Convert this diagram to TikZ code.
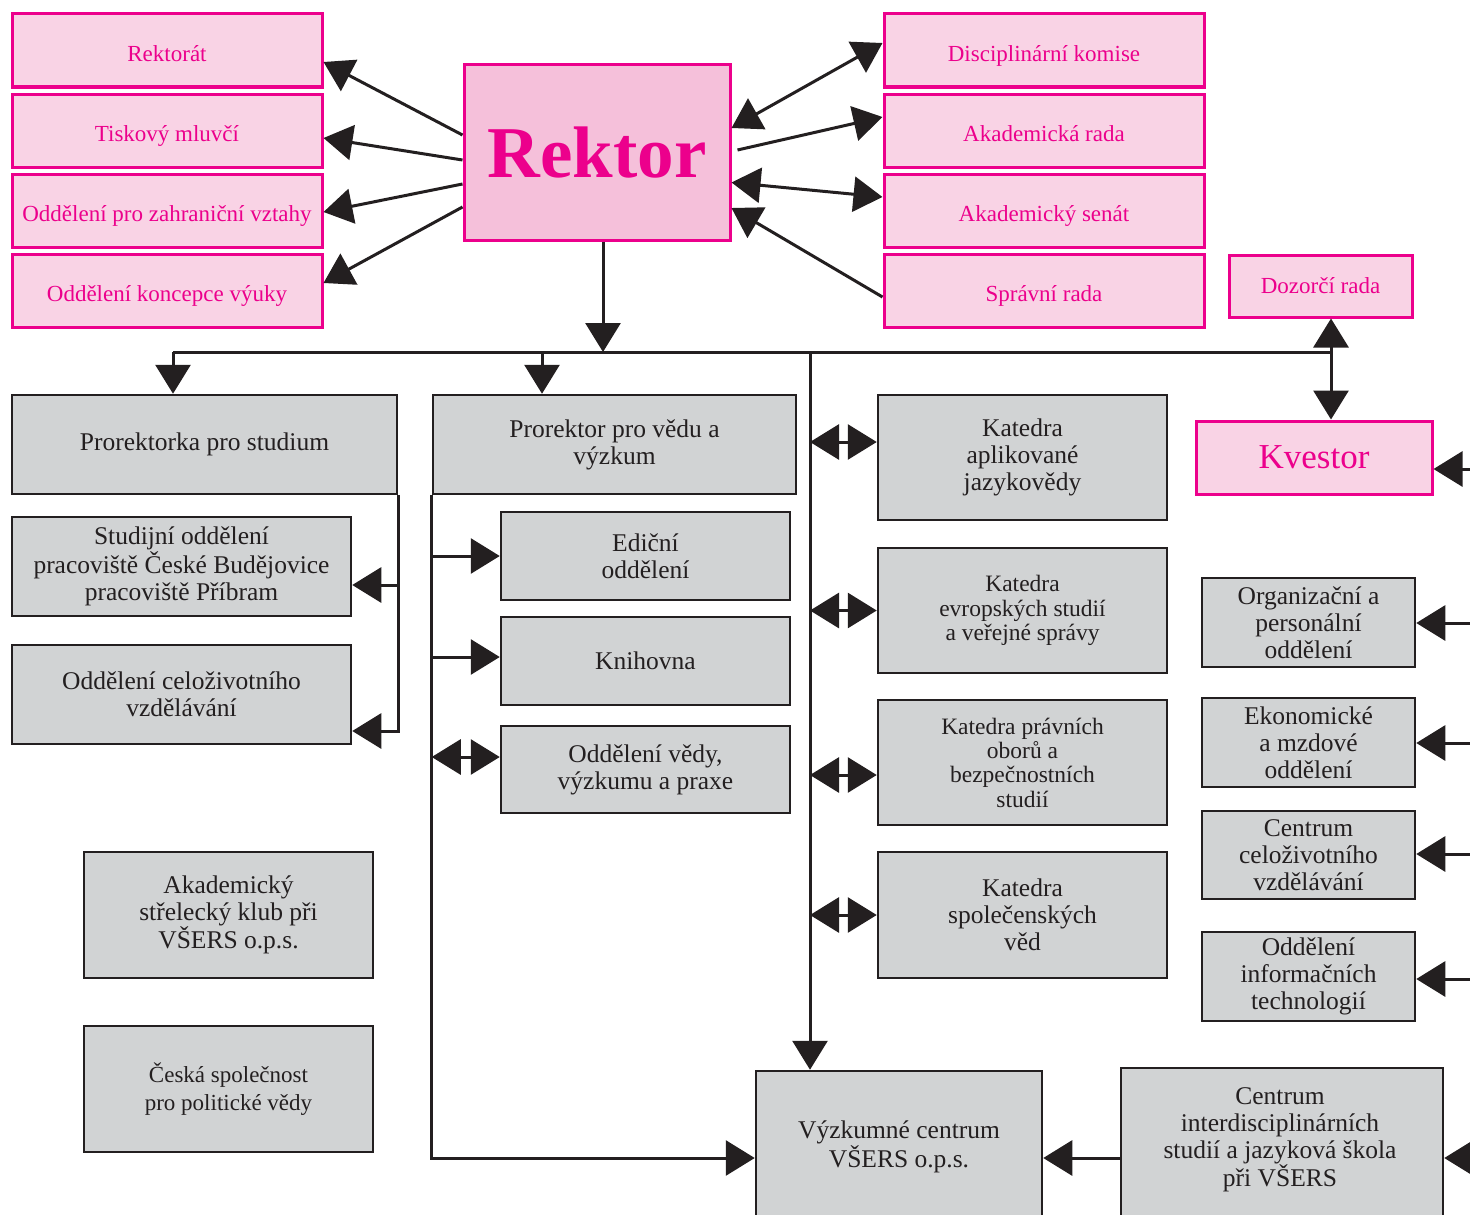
\documentclass[tikz,border=0pt]{standalone}
\usepackage{fontspec}
\setmainfont{Liberation Serif}
\usetikzlibrary{arrows.meta}
\definecolor{pinkb}{HTML}{EC008C}
\definecolor{pinkf}{HTML}{F9D3E5}
\definecolor{pinkr}{HTML}{F5C0DA}
\definecolor{grayf}{HTML}{D1D3D4}
\definecolor{inkc}{HTML}{231F20}
\newcommand\orgbox[7]{\node[#1,minimum width={#4-#2},minimum height={#5-#3}] (#6) at ({(#2+#4)/2},{(#3+#5)/2}) {#7};}
\tikzset{
  pbox/.style={draw=pinkb,line width=3pt,fill=pinkf,text=pinkb,inner sep=0pt,align=center,font=\fontsize{23}{27}\selectfont},
  pboxl/.style={pbox,text height=22pt,text depth=0pt},
  rbox/.style={pbox,fill=pinkr,font=\fontsize{73}{80}\selectfont\bfseries},
  kbox/.style={pbox,font=\fontsize{35}{40}\selectfont},
  gbox/.style={draw=inkc,line width=2.5pt,fill=grayf,text=inkc,inner sep=0pt,align=center,font=\fontsize{25.5}{27}\selectfont},
  gsbox/.style={gbox,font=\fontsize{23.5}{24.3}\selectfont},
  gcbox/.style={gbox,font=\fontsize{23}{28}\selectfont},
  gtext/.style={text=inkc,inner sep=0pt,align=center,font=\fontsize{25.5}{27}\selectfont},
  conn/.style={draw=inkc,line width=3pt},
  arr/.style={conn,-{Triangle[length=29pt,width=35pt]}},
  darr/.style={conn,{Triangle[length=29pt,width=35pt]}-{Triangle[length=29pt,width=35pt]}},
}
\begin{document}
\begin{tikzpicture}[x=1pt,y=-1pt]
\useasboundingbox (0,0) rectangle (1470,1215);
% pink boxes
\orgbox{pboxl}{12}{14}{322}{87}{rektorat}{Rektorát}
\orgbox{pboxl}{12}{94}{322}{167}{tisk}{Tiskový mluvčí}
\orgbox{pboxl}{12}{174}{322}{247}{zahr}{Oddělení pro zahraniční vztahy}
\orgbox{pboxl}{12}{254}{322}{327}{konc}{Oddělení koncepce výuky}
\orgbox{rbox}{464}{65}{730}{240}{rektor}{Rektor}
\orgbox{pboxl}{884}{14}{1204}{87}{disc}{Disciplinární komise}
\orgbox{pboxl}{884}{94}{1204}{167}{akrada}{Akademická rada}
\orgbox{pboxl}{884}{174}{1204}{247}{senat}{Akademický senát}
\orgbox{pboxl}{884}{254}{1204}{327}{sprava}{Správní rada}
\orgbox{pbox}{1229}{255}{1412}{317}{dozor}{Dozorčí rada}
\orgbox{kbox}{1196}{421}{1432}{494}{kvestor}{Kvestor}
% gray boxes
\orgbox{gbox}{12}{395}{397}{494}{prostud}{Prorektorka pro studium}
\orgbox{gbox}{433}{395}{796}{494}{provedu}{Prorektor pro vědu a\\výzkum}
\orgbox{gbox}{12}{517}{351}{616}{studijni}{Studijní oddělení\\pracoviště České Budějovice\\pracoviště Příbram}
\orgbox{gbox}{12}{645}{351}{744}{celoz}{Oddělení celoživotního\\vzdělávání}
\orgbox{gbox}{501}{512}{790}{600}{edicni}{Ediční\\oddělení}
\orgbox{gbox}{501}{617}{790}{705}{knihovna}{Knihovna}
\orgbox{gbox}{501}{726}{790}{813}{odvedy}{Oddělení vědy,\\výzkumu a praxe}
\orgbox{gbox}{878}{395}{1167}{520}{katA}{Katedra\\aplikované\\jazykovědy}
\orgbox{gsbox}{878}{548}{1167}{673}{katE}{Katedra\\evropských studií\\a veřejné správy}
\orgbox{gsbox}{878}{700}{1167}{825}{katP}{Katedra právních\\oborů a\\bezpečnostních\\studií}
\orgbox{gbox}{878}{852}{1167}{978}{katS}{Katedra\\společenských\\věd}
\orgbox{gbox}{1202}{578}{1415}{667}{org}{Organizační a\\personální\\oddělení}
\orgbox{gbox}{1202}{698}{1415}{787}{ekon}{Ekonomické\\a mzdové\\oddělení}
\orgbox{gbox}{1202}{811}{1415}{899}{ccv}{Centrum\\celoživotního\\vzdělávání}
\orgbox{gbox}{1202}{932}{1415}{1021}{oit}{Oddělení\\informačních\\technologií}
\orgbox{gbox}{84}{852}{373}{978}{klub}{Akademický\\střelecký klub při\\VŠERS o.p.s.}
\orgbox{gcbox}{84}{1026}{373}{1152}{csp}{Česká společnost\\pro politické vědy}
\orgbox{gbox}{756}{1071}{1042}{1245}{vyzkum}{}
\node[gtext] (vyzkumT) at (899,1147) {Výzkumné centrum\\VŠERS o.p.s.};
\orgbox{gbox}{1121}{1068}{1443}{1248}{cis}{}
\node[gtext] (cisT) at (1280,1140) {Centrum\\interdisciplinárních\\studií a jazyková škola\\při VŠERS};
% Rektor connectors
\draw[arr] ([yshift=17.5pt]rektor.west) -- ([yshift=-11.5pt]rektorat.east);
\draw[arr] ([yshift=-7.5pt]rektor.west) -- ([yshift=-7.5pt]tisk.east);
\draw[arr] ([yshift=-31.5pt]rektor.west) -- ([yshift=-1.5pt]zahr.east);
\draw[arr] ([yshift=-54.5pt]rektor.west) -- ([yshift=7.5pt]konc.east);
\draw[darr] ([yshift=24.5pt]rektor.east) -- ([yshift=7.5pt]disc.west);
\draw[arr] ([xshift=6pt,yshift=2.5pt]rektor.east) -- ([yshift=13.5pt]akrada.west);
\draw[darr] ([yshift=-30pt]rektor.east) -- ([yshift=13.5pt]senat.west);
\draw[arr] ([yshift=-6.5pt]sprava.west) -- ([yshift=-55.5pt]rektor.east);
% bus
\coordinate (bus0) at (173,352);
\coordinate (bus1) at (542,352);
\coordinate (bus2) at (810,352);
\coordinate (bus3) at (1331,352);
\draw[arr] ([xshift=6pt]rektor.south) -- ([xshift=6pt]rektor.south |- bus0);
\draw[conn] (bus0) -- (bus3);
\draw[arr] (bus0) -- (bus0 |- prostud.north);
\draw[arr] (bus1) -- (bus1 |- provedu.north);
\draw[arr] (bus2) -- (bus2 |- vyzkum.north);
\draw[darr] (dozor.south -| bus3) -- (kvestor.north -| bus3);
% Prorektorka branch
\path ([yshift=-18.5pt]studijni.east) coordinate (s1) ([yshift=-36.5pt]celoz.east) coordinate (s2);
\draw[arr] (prostud.south east) |- (s2);
\draw[arr] (prostud.south east |- s1) -- (s1);
% Prorektor branch
\draw[arr] (provedu.south west) |- (vyzkum.west);
\draw[arr] (provedu.south west |- edicni.west) -- (edicni.west);
\path ([yshift=4pt]knihovna.west) coordinate (kn);
\draw[arr] (provedu.south west |- kn) -- (kn);
\path ([yshift=12.5pt]odvedy.west) coordinate (ov);
\draw[darr] (provedu.south west |- ov) -- (ov);
% katedry
\path ([yshift=15.5pt]katA.west) coordinate (ka);
\draw[darr] (bus2 |- ka) -- (ka);
\draw[darr] (bus2 |- katE.west) -- (katE.west);
\path ([yshift=-12.5pt]katP.west) coordinate (kp);
\draw[darr] (bus2 |- kp) -- (kp);
\draw[darr] (bus2 |- katS.west) -- (katS.west);
% right free ends
\coordinate (rK) at (1476,469);
\coordinate (rO) at (1476,623);
\coordinate (rE) at (1476,743);
\coordinate (rC) at (1476,854);
\coordinate (rI) at (1476,979);
\coordinate (rX) at (1476,1158);
\draw[arr] (rK) -- (rK -| kvestor.east);
\draw[arr] (rO) -- (rO -| org.east);
\draw[arr] (rE) -- (rE -| ekon.east);
\draw[arr] (rC) -- (rC -| ccv.east);
\draw[arr] (rI) -- (rI -| oit.east);
\draw[arr] (rX) -- (rX -| cis.east);
\draw[arr] (cis.west) -- (vyzkum.east);
\end{tikzpicture}
\end{document}
